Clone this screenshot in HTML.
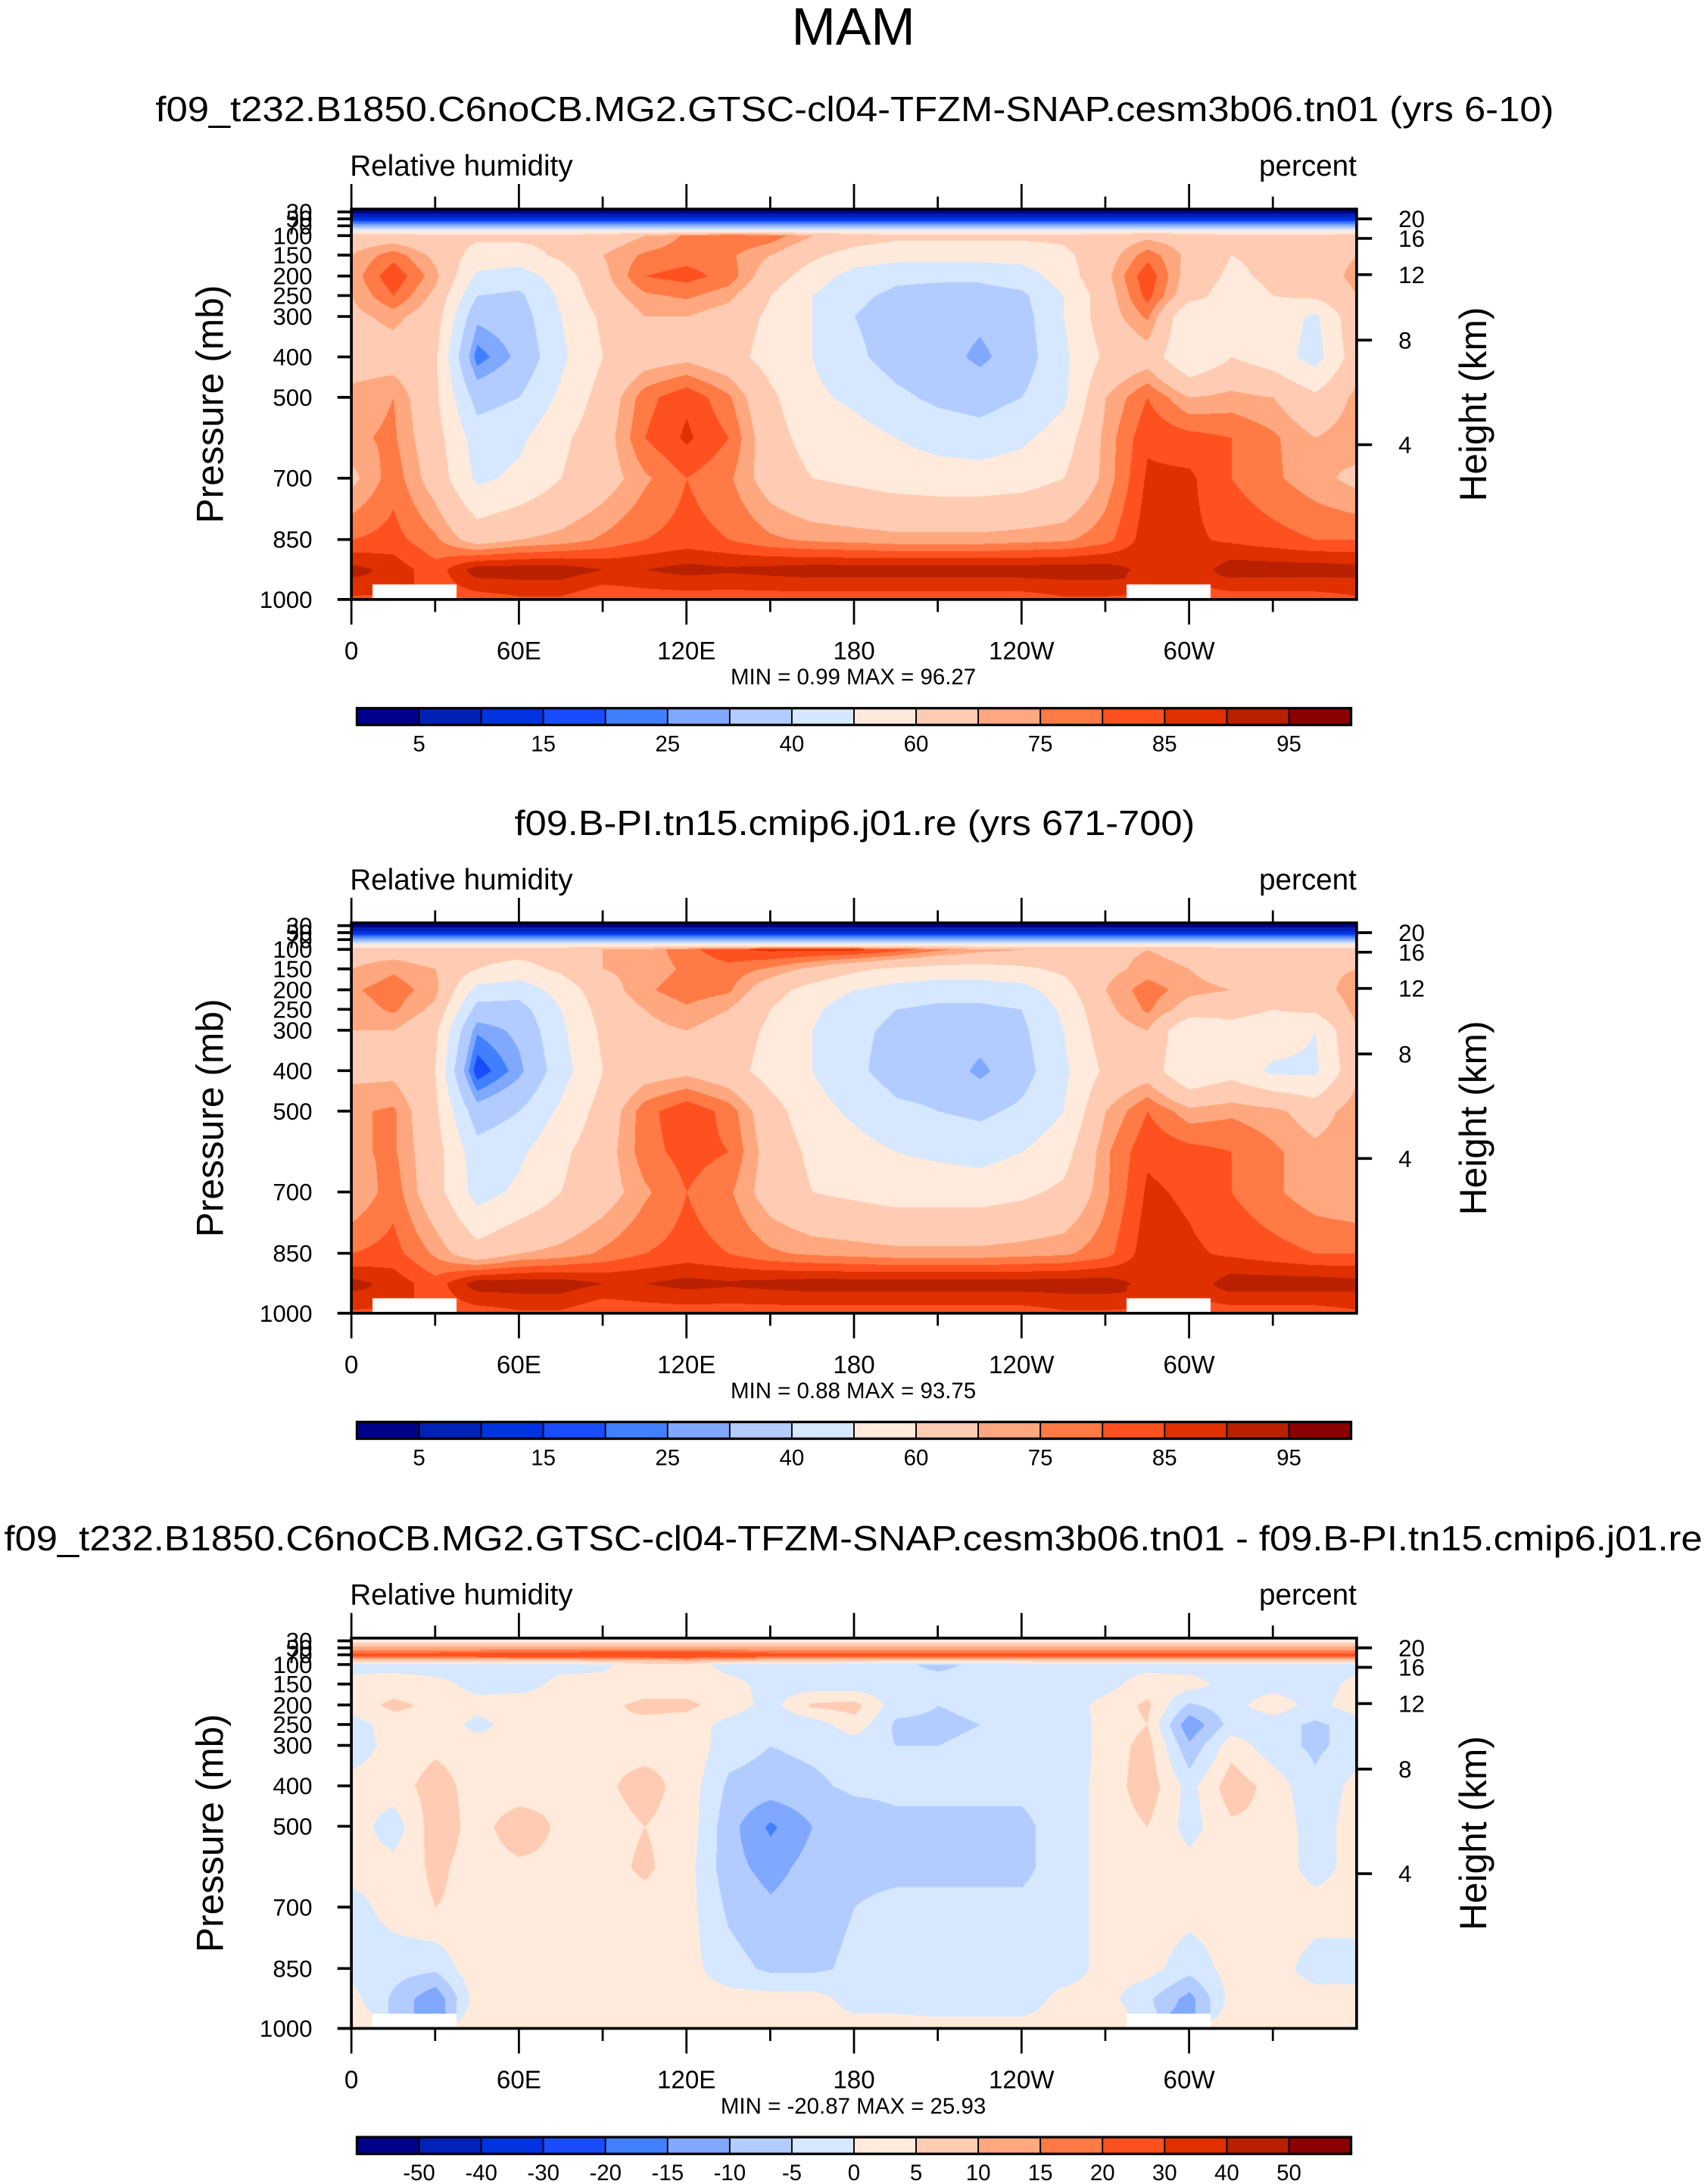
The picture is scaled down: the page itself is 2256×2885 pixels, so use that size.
<!DOCTYPE html>
<html><head><meta charset="utf-8"><style>
html,body{margin:0;padding:0;background:#fff;}
#wrap{position:relative;width:2256px;height:2885px;overflow:hidden;}
svg{position:absolute;left:0;top:0;}
canvas{position:absolute;}
text{font-family:"Liberation Sans Narrow","Liberation Sans",sans-serif;fill:#000;}
</style></head><body>
<div id="wrap">
<canvas id="c0"></canvas>
<canvas id="c1"></canvas>
<canvas id="c2"></canvas>
<svg id="svg" width="2256" height="2885" viewBox="0 0 1225 1566.6">
<text x="612" y="32" font-size="38" text-anchor="middle" font-family="Liberation Sans">MAM</text>
<text x="613" y="87" font-size="25" text-anchor="middle" textLength="1003" lengthAdjust="spacingAndGlyphs">f09_t232.B1850.C6noCB.MG2.GTSC-cl04-TFZM-SNAP.cesm3b06.tn01 (yrs 6-10)</text>
<text x="613" y="599" font-size="25" text-anchor="middle" textLength="488" lengthAdjust="spacingAndGlyphs">f09.B-PI.tn15.cmip6.j01.re (yrs 671-700)</text>
<text x="612" y="1112" font-size="25" text-anchor="middle" textLength="1218" lengthAdjust="spacingAndGlyphs">f09_t232.B1850.C6noCB.MG2.GTSC-cl04-TFZM-SNAP.cesm3b06.tn01 - f09.B-PI.tn15.cmip6.j01.re</text>
<g id="axes"></g>
</svg>
</div>
<script>
// ---- data ----
const lons=[0,15,30,45,60,75,90,105,120,135,150,165,180,195,210,225,240,255,270,285,300,315,330,345,360];
const levels=[30,50,70,85,100,150,200,250,300,400,500,600,700,850,925,1000];
const rhLevels=[5,10,15,20,25,30,40,50,60,70,75,80,85,90,95];
const rhTickLabels=["5","15","25","40","60","75","85","95"];
const diffLevels=[-50,-40,-30,-20,-15,-10,-5,0,5,10,15,20,30,40,50];
const diffTickLabels=["-50","-40","-30","-20","-15","-10","-5","0","5","10","15","20","30","40","50"];
const lonTicks=[0,60,120,180,240,300];
const lonTickLabels=["0","60E","120E","180","120W","60W"];
const pTicks=[30,50,70,100,150,200,250,300,400,500,700,850,1000];
const hTicks=[20,16,12,8,4];
const minmax=[["0.99","96.27"],["0.88","93.75"],["-20.87","25.93"]];
const N=null;
const rh1=[
[3,3,3,3,3,3,3,3,3,3,3,3,3,3,3,3,3,3,3,3,3,3,3,3,3],
[12,12,12,12,12,12,12,12,12,12,12,12,12,12,12,12,12,12,12,12,12,12,12,12,12],
[30,30,30,30,30,30,30,30,30,30,30,30,30,30,30,30,30,30,30,30,30,30,30,30,30],
[52,52,52,52,52,52,52,52,52,52,52,52,52,52,52,52,52,52,52,52,52,52,52,52,52],
[65,65,62,62,62,62,65,70,76,80,78,70,65,62,62,62,62,62,65,68,66,62,62,62,65],
[70,78,68,56,56,62,70,76,78,76,70,62,56,54,54,54,54,58,66,78,68,60,62,66,70],
[72,84,72,48,45,55,68,80,82,78,65,55,46,42,42,42,45,55,68,84,66,58,62,66,72],
[70,80,68,40,38,52,66,74,76,72,60,50,42,38,36,36,38,50,66,82,64,55,60,62,70],
[68,72,65,32,35,50,62,70,70,66,58,50,40,36,34,32,36,50,66,76,50,58,56,48,68],
[66,66,62,22,32,48,60,66,68,64,56,50,42,36,34,28,35,48,62,66,50,60,55,46,66],
[72,75,62,36,40,52,64,78,84,76,62,52,48,42,38,36,40,48,70,80,70,72,70,62,72],
[74,76,64,45,48,58,66,80,86,80,64,56,54,50,46,44,48,55,72,84,82,80,76,70,74],
[68,78,66,48,52,60,66,74,80,76,66,60,58,56,55,55,56,60,72,86,86,80,76,72,68],
[80,82,76,66,70,72,76,80,82,80,76,74,73,72,72,72,73,74,78,88,86,84,82,80,80],
[92,88,82,93,93,93,90,90,92,91,92,93,93,93,93,93,93,93,93,88,86,93,93,93,92],
[84,N,N,82,84,84,80,82,82,82,82,82,82,82,82,82,82,84,84,N,N,82,82,82,84]];
const rh2=[
[3,3,3,3,3,3,3,3,3,3,3,3,3,3,3,3,3,3,3,3,3,3,3,3,3],
[12,12,12,12,12,12,12,12,12,12,12,12,12,12,12,12,12,12,12,12,12,12,12,12,12],
[30,30,30,30,30,30,30,30,30,30,30,30,30,30,30,30,30,30,30,30,30,30,30,30,30],
[52,52,52,52,52,52,52,52,52,52,52,52,52,52,52,52,52,52,52,52,52,52,52,52,52],
[66,66,64,64,64,66,70,72,78,84,86,86,86,82,76,72,70,68,68,70,68,66,66,66,66],
[70,74,70,60,56,62,70,72,76,78,74,68,62,58,56,56,58,62,68,72,70,66,66,68,70],
[74,78,72,46,44,54,66,74,78,76,64,56,50,46,44,44,46,56,70,78,72,70,62,66,74],
[72,76,68,36,36,50,64,70,74,70,60,52,44,40,38,38,40,52,68,76,66,62,60,62,72],
[70,70,62,26,32,48,62,68,70,66,58,50,42,38,36,34,38,50,66,70,50,58,56,50,70],
[68,68,60,16,28,46,60,66,68,64,56,50,42,36,36,28,36,48,62,66,50,56,48,48,68],
[74,76,62,34,40,52,64,78,84,78,64,54,48,42,40,38,42,50,70,80,72,74,72,66,74],
[74,76,64,44,48,58,66,78,82,80,66,58,54,50,48,46,50,56,74,84,82,80,76,72,74],
[70,78,64,46,52,60,66,74,80,76,66,60,58,56,56,56,58,62,74,86,84,80,76,72,70],
[80,82,74,64,70,72,76,80,82,80,76,74,73,72,72,72,73,74,78,88,86,84,82,80,80],
[92,88,82,93,93,93,90,90,92,91,92,93,93,93,93,93,93,93,93,88,86,93,93,93,92],
[84,N,N,82,84,84,80,82,82,82,82,82,82,82,82,82,82,84,84,N,N,82,82,82,84]];
const rhDiff=[
[3,3,3,3,3,3,3,3,3,3,3,3,3,3,3,3,3,3,3,3,3,3,3,3,3],
[12,12,12,12,12,12,12,12,12,12,12,12,12,12,12,12,12,12,12,12,12,12,12,12,12],
[24,24,24,25,26,26,27,28,28,26,24,24,24,23,23,24,24,24,24,24,24,24,24,24,24],
[8,8,8,8,8,8,9,10,11,10,8,8,8,7,7,7,7,8,8,8,8,8,8,8,8],
[-2,-2,-3,-2,-2,-2,-1,3,3,-2,-3,-3,-4,-4,-6,-4,-3,-2,-2,-2,-2,-2,-2,-3,-2],
[2,3,2,-2,-3,2,2,3,3,2,-2,-3,-3,-3,-3,-4,-3,-3,-2,3,2,-2,-2,-3,2],
[3,6,4,2,4,3,4,6,6,3,-2,6,7,-3,-5,-4,-4,-3,2,6,-6,-2,3,-2,3],
[-3,3,4,-2,3,3,5,4,3,-2,-5,-3,3,-6,-6,-5,-5,-4,2,5,-14,-3,-3,-6,-3],
[-3,2,4,3,3,2,4,3,4,-3,-5,-4,-3,-5,-5,-4,-5,-4,2,7,-9,3,-3,-6,-3],
[2,3,7,3,2,4,4,7,3,-6,-7,-6,-4,-4,-4,-4,-4,-3,2,8,-2,8,3,-4,2],
[3,-3,8,3,8,4,3,5,3,-8,-16,-10,-8,-6,-6,-6,-6,-3,2,5,-2,4,4,-3,3],
[2,2,6,3,4,4,3,6,2,-8,-12,-8,-6,-6,-6,-6,-6,-3,2,3,2,4,3,-2,2],
[-2,2,5,4,3,4,3,3,2,-6,-9,-7,-5,-4,-4,-4,-4,-3,2,3,2,2,3,2,2],
[-2,-3,-4,4,3,3,2,2,2,-3,-6,-6,-4,-3,-3,-3,-3,-3,2,2,-3,2,2,-2,-2],
[2,-6,-14,3,2,2,2,2,2,2,2,2,-2,-2,-3,-3,-3,2,2,-4,-12,2,2,2,2],
[2,N,N,2,2,2,2,2,2,2,2,2,2,2,2,2,2,2,2,N,N,2,2,2,2]];
const colors=["#00008b","#0021b5","#0033e0","#1a4cff","#4080ff","#80a8ff","#b3ccff","#d6e8ff","#ffeadb","#ffccb3","#ffa880","#ff7a45","#ff5020","#e03000","#b82000","#8b0000"];

// ---- geometry (thumb units; S scales to real pixels) ----
const S=2256/1225;
const X0=252, X1=973, PH=280;
const panelTops=[150,662,1175];
const cbTops=[508,1020,1533];
const pTable=[[20,148],[30,152],[50,157],[70,162],[100,169],[150,183],[200,198],[250,212],[300,227],[400,256],[500,285],[700,343],[850,387],[1000,430]];
const hTable=[[20,7],[16,21],[12,47],[8,94],[4,169]];
function xOf(lon){return X0+lon/360*(X1-X0);}
function yOfP(p,top){for(let i=1;i<pTable.length;i++){if(p<=pTable[i][0]){const a=pTable[i-1],b=pTable[i];return top+(a[1]-150)+(p-a[0])/(b[0]-a[0])*(b[1]-a[1]);}}return top+280;}
function colorIdx(v,lv){let i=0;while(i<lv.length&&v>=lv[i])i++;return i;}
function hex(c){return [parseInt(c.substr(1,2),16),parseInt(c.substr(3,2),16),parseInt(c.substr(5,2),16)];}
const rgb=colors.map(hex);

function drawField(id,data,lv,top){
  const cv=document.getElementById(id);
  const W=Math.round((X1-X0)*S), H=Math.round(PH*S);
  cv.width=W;cv.height=H;
  cv.style.left=(X0*S)+'px';cv.style.top=(top*S)+'px';
  cv.style.width=W+'px';cv.style.height=H+'px';
  const ctx=cv.getContext('2d');const img=ctx.createImageData(W,H);
  const rowY=levels.map(p=>(yOfP(p,top)-top)*S);
  for(let py=0;py<H;py++){
    let r=0;while(r<levels.length-2&&py>rowY[r+1])r++;
    let t=(py-rowY[r])/(rowY[r+1]-rowY[r]);t=Math.max(0,Math.min(1,t));
    for(let px=0;px<W;px++){
      const fl=px/W*(lons.length-1);let c=Math.min(lons.length-2,Math.floor(fl));const u=fl-c;
      const a=data[r][c],b=data[r][c+1],d=data[r+1][c],e=data[r+1][c+1];
      const near=data[t<0.5?r:r+1][u<0.5?c:c+1];
      const o=(py*W+px)*4;
      if(near===null){img.data[o]=255;img.data[o+1]=255;img.data[o+2]=255;img.data[o+3]=255;continue;}
      const f=v=>v===null?near:v;
      const v=(1-t)*((1-u)*f(a)+u*f(b))+t*((1-u)*f(d)+u*f(e));
      const k=rgb[colorIdx(v,lv)];
      img.data[o]=k[0];img.data[o+1]=k[1];img.data[o+2]=k[2];img.data[o+3]=255;
    }
  }
  ctx.putImageData(img,0,0);
}
drawField('c0',rh1,rhLevels,panelTops[0]);
drawField('c1',rh2,rhLevels,panelTops[1]);
drawField('c2',rhDiff,diffLevels,panelTops[2]);

// ---- axes ----
const NS="http://www.w3.org/2000/svg";
const g=document.getElementById('axes');
function el(tag,attrs,parent){const e=document.createElementNS(NS,tag);for(const k in attrs)e.setAttribute(k,attrs[k]);(parent||g).appendChild(e);return e;}
function txt(s,attrs,parent){const e=el('text',attrs,parent);e.textContent=s;return e;}
const allLevels=[rhLevels,rhLevels,diffLevels];
const allTicks=[rhTickLabels,rhTickLabels,diffTickLabels];
panelTops.forEach((top,pi)=>{
  const pg=el('g',{});
  
  
  const bot=top+PH;
  const lt=txt('Relative humidity',{x:X0-1,y:top-24,'font-size':21},pg);
  
  
  const ut=txt('percent',{x:X1,y:top-24,'font-size':21,'text-anchor':'end'},pg);
  
  
  const fr=el('rect',{x:X0,y:top,width:X1-X0,height:PH,fill:'none',stroke:'#000','stroke-width':2},pg);
  
  
  for(let lon=0;lon<360;lon+=30){
    const x=xOf(lon);const major=lon%60===0;
    el('line',{x1:x,x2:x,y1:top,y2:top-(major?18:9),stroke:'#000','stroke-width':1.5},pg);
    el('line',{x1:x,x2:x,y1:bot,y2:bot+(major?18:9),stroke:'#000','stroke-width':1.5},pg);
  }
  lonTicks.forEach((lon,i)=>{
    const t=txt(lonTickLabels[i],{x:xOf(lon),y:bot+43,'font-size':18,'text-anchor':'middle'},pg);
    
    
  });
  pTicks.forEach(p=>{
    const y=yOfP(p,top);
    el('line',{x1:X0,x2:X0-10,y1:y,y2:y,stroke:'#000','stroke-width':2},pg);
    const t=txt(String(p),{x:X0-28,y:y+6,'font-size':17,'text-anchor':'end'},pg);
    
    
  });
  hTicks.forEach((h,i)=>{
    const y=top+hTable[i][1];
    el('line',{x1:X1,x2:X1+11,y1:y,y2:y,stroke:'#000','stroke-width':2},pg);
    const t=txt(String(h),{x:X1+30,y:y+6,'font-size':17},pg);
    
    
  });
  const yt=txt('Pressure (mb)',{x:0,y:0,'font-size':27,'text-anchor':'middle','font-family':'Liberation Sans',transform:'translate(160,'+(top+140)+') rotate(-90)'},pg);
  
  
  const ht=txt('Height (km)',{x:0,y:0,'font-size':27,'text-anchor':'middle','font-family':'Liberation Sans',transform:'translate(1066,'+(top+140)+') rotate(-90)'},pg);
  
  
  const mm=txt('MIN = '+(pi<2?'  ':'')+minmax[pi][0]+'  MAX = '+minmax[pi][1],{x:612,y:bot+61,'font-size':16,'text-anchor':'middle'},pg);
  
  
  // colorbar
  const cb=el('g',{});
  
  
  const cy=cbTops[pi], cx0=256, cx1=969, n=colors.length, w=(cx1-cx0)/n;
  colors.forEach((c,i)=>{
    const r=el('rect',{x:cx0+i*w,y:cy,width:w,height:12,fill:c,stroke:'#000','stroke-width':1},cb);
    
    
  });
  el('rect',{x:cx0,y:cy,width:cx1-cx0,height:12,fill:'none',stroke:'#000','stroke-width':1.8},cb);
  const lv=allLevels[pi], labs=allTicks[pi];
  lv.forEach((v,i)=>{
    if(pi<2 && i%2!==0) return;
    const li=pi<2?i/2:i;
    const t=txt(labs[li],{x:cx0+(i+1)*w,y:cy+31,'font-size':16,'text-anchor':'middle'},cb);
    
    
  });
});
</script>
</body></html>
